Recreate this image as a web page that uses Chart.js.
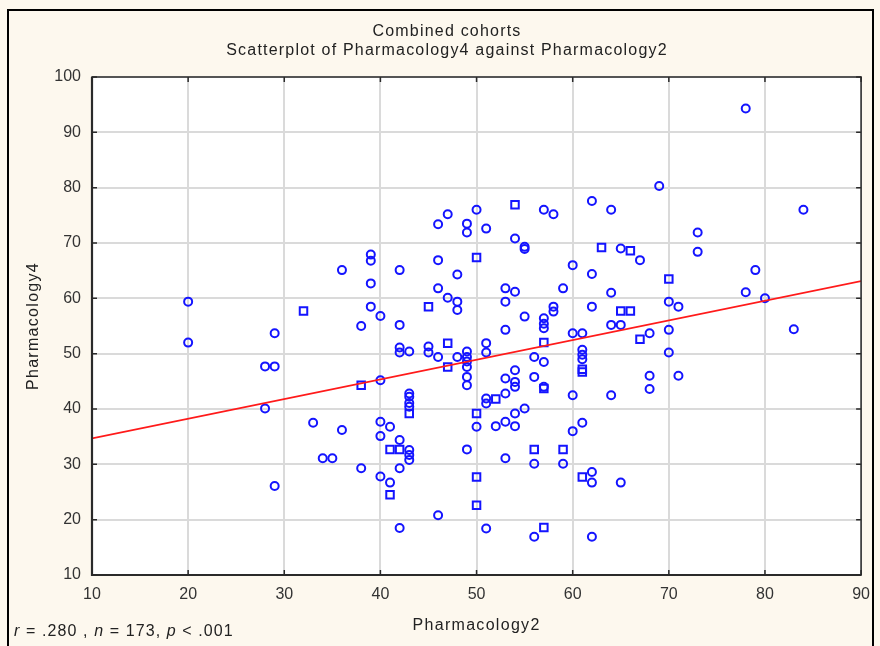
<!DOCTYPE html>
<html>
<head>
<meta charset="utf-8">
<script src="https://cdn.jsdelivr.net/npm/chart.js@4.4.0/dist/chart.umd.min.js"></script>
<style>
  html, body { margin: 0; padding: 0; background: #fdf8ee; }
  #wrap { width: 880px; height: 646px; position: relative; }
</style>
</head>
<body>
<div id="wrap"><canvas id="scatter" width="880" height="646"></canvas></div>
<script>
// titles
const chartTitle = 'Combined cohorts';
const chartSubtitle = 'Scatterplot of Pharmacology4 against Pharmacology2';
const xTitle = 'Pharmacology2';
const yTitle = 'Pharmacology4';

// axis ranges and ticks
const xTicks = [10, 20, 30, 40, 50, 60, 70, 80, 90];
const yTicks = [10, 20, 30, 40, 50, 60, 70, 80, 90, 100];

// circle markers
const circleX = [
  20, 20, 28, 28, 29, 29, 29, 33, 34, 35, 36, 36, 38, 38,
  39, 39, 39, 39, 40, 40, 40, 40, 40, 41, 41,
  42, 42, 42, 42, 42, 42, 42,
  43, 43, 43, 43, 43, 43, 43, 43,
  45, 45, 46, 46, 46, 46, 46, 47, 47, 48, 48, 48, 48,
  49, 49, 49, 49, 49, 49, 49, 49, 49, 50, 50,
  51, 51, 51, 51, 51, 51, 52,
  53, 53, 53, 53, 53, 53, 53,
  54, 54, 54, 54, 54, 54, 54,
  55, 55, 55, 55, 56, 56, 56, 56,
  57, 57, 57, 57, 57, 57, 58, 58, 58, 59, 59,
  60, 60, 60, 60, 61, 61, 61, 61, 61,
  62, 62, 62, 62, 62, 62, 64, 64, 64, 64, 65, 65, 65,
  67, 68, 68, 68, 69, 70, 70, 70, 71, 71, 73, 73,
  78, 78, 79, 80, 83, 84
];
const circleY = [
  59.4, 52.0, 47.7, 40.1, 53.7, 47.7, 26.1, 37.5, 31.1, 31.1, 65.1, 36.2, 55.0, 29.3,
  67.9, 66.8, 62.7, 58.5, 56.8, 45.2, 37.7, 35.1, 27.8, 36.8, 26.7,
  65.1, 55.2, 51.1, 50.2, 34.4, 29.3, 18.5,
  50.4, 42.8, 42.2, 41.1, 40.4, 32.6, 31.7, 30.8,
  51.3, 50.2, 73.4, 66.9, 61.8, 49.4, 20.8, 75.2, 60.1, 64.3, 59.4, 57.9, 49.4,
  73.5, 71.9, 50.4, 49.4, 48.6, 47.6, 45.8, 44.3, 32.7, 76.0, 36.8,
  72.6, 51.9, 50.2, 41.9, 41.0, 18.4, 36.9,
  61.8, 59.4, 54.3, 45.5, 42.8, 37.7, 31.1,
  70.8, 61.2, 47.0, 44.9, 44.0, 39.2, 36.9,
  69.3, 68.9, 56.7, 40.1, 49.4, 45.8, 30.1, 16.9,
  76.0, 56.4, 55.4, 54.6, 48.5, 44.0, 75.2, 58.5, 57.6, 61.8, 30.1,
  66.0, 53.7, 42.5, 36.0, 53.7, 50.7, 49.8, 49.0, 37.5,
  77.6, 64.4, 58.5, 28.6, 26.7, 16.9, 76.0, 61.0, 55.2, 42.5, 69.0, 55.2, 26.7,
  66.9, 53.7, 46.0, 43.6, 80.3, 59.4, 54.3, 50.2, 58.5, 46.0, 71.9, 68.4,
  94.3, 61.1, 65.1, 60.0, 54.4, 76.0
];

// square markers
const squareX = [32, 38, 41, 41, 42, 43, 45, 47, 47, 50, 50, 50, 50, 52, 54,
                 56, 57, 57, 57, 59, 61, 61, 61, 63, 65, 66, 66, 67, 70];
const squareY = [57.7, 44.3, 32.7, 24.5, 32.7, 39.2, 58.5, 51.9, 47.6, 67.4, 39.2, 27.7, 22.6, 41.8, 76.9,
                 32.7, 52.0, 43.7, 18.6, 32.7, 47.2, 46.7, 27.7, 69.2, 57.7, 68.6, 57.7, 52.6, 63.5];

// fitted line end points
const fitX = [10, 90];
const fitY = [34.7, 63.1];

const statsParts = [
    ['r', true], [' = .280 , ', false], ['n', true], [' = 173, ', false], ['p', true], [' < .001', false]
];

function toPoints(xs, ys) {
    return xs.map((x, i) => ({ x: x, y: ys[i] }));
}

const FONT = '"Liberation Sans", Arial, sans-serif';

// 背景、外框和文字
const decorPlugin = {
    id: 'decor',
    beforeDraw(chart) {
        const ctx = chart.ctx;
        const a = chart.chartArea;
        ctx.save();
        ctx.fillStyle = '#fdf8ee';
        ctx.fillRect(0, 0, chart.width, chart.height);
        ctx.fillStyle = '#ffffff';
        ctx.fillRect(a.left, a.top, a.right - a.left, a.bottom - a.top);
        ctx.restore();
    },
    afterDraw(chart) {
        const ctx = chart.ctx;
        const a = chart.chartArea;
        ctx.save();
        // plot frame, left and bottom heavier
        ctx.strokeStyle = '#2a2a2a';
        ctx.lineWidth = 1.5;
        ctx.strokeRect(a.left, a.top, a.right - a.left, a.bottom - a.top);
        ctx.lineWidth = 2.2;
        ctx.beginPath();
        ctx.moveTo(a.left, a.top); ctx.lineTo(a.left, a.bottom); ctx.lineTo(a.right, a.bottom);
        ctx.stroke();
        // outer frame
        ctx.strokeStyle = '#000';
        ctx.lineWidth = 2;
        ctx.strokeRect(8, 10, 865, 660);

        // inward major ticks
        ctx.strokeStyle = '#2a2a2a';
        ctx.lineWidth = 1.5;
        const xs = chart.scales.x, ys = chart.scales.y;
        xTicks.forEach(v => {
            const px = xs.getPixelForValue(v);
            ctx.beginPath();
            ctx.moveTo(px, a.bottom); ctx.lineTo(px, a.bottom - 5);
            ctx.moveTo(px, a.top); ctx.lineTo(px, a.top + 5);
            ctx.stroke();
        });
        yTicks.forEach(v => {
            const py = ys.getPixelForValue(v);
            ctx.beginPath();
            ctx.moveTo(a.left, py); ctx.lineTo(a.left + 5, py);
            ctx.moveTo(a.right, py); ctx.lineTo(a.right - 5, py);
            ctx.stroke();
        });

        // titles
        ctx.fillStyle = '#222';
        ctx.textAlign = 'center';
        ctx.textBaseline = 'middle';
        ctx.font = '16px ' + FONT;
        ctx.letterSpacing = '1.2px';
        ctx.fillText(chartTitle, 447, 32);
        ctx.fillText(chartSubtitle, 447, 51);

        ctx.letterSpacing = '1.3px';
        ctx.fillText(xTitle, (a.left + a.right) / 2, 626);
        ctx.save();
        ctx.translate(34, (a.top + a.bottom) / 2);
        ctx.rotate(-Math.PI / 2);
        ctx.fillText(yTitle, 0, 0);
        ctx.restore();

        // statistics line
        ctx.textAlign = 'left';
        ctx.letterSpacing = '1.1px';
        let x = 14;
        statsParts.forEach(([txt, it]) => {
            ctx.font = (it ? 'italic ' : '') + '16px ' + FONT;
            ctx.fillText(txt, x, 632);
            x += ctx.measureText(txt).width;
        });
        ctx.restore();
    }
};

const ctx = document.getElementById('scatter').getContext('2d');
const scatterChart = new Chart(ctx, {
    type: 'scatter',
    data: {
        datasets: [
            {
                label: 'circles',
                data: toPoints(circleX, circleY),
                pointStyle: 'circle',
                pointRadius: 4,
                borderColor: '#1414ff',
                backgroundColor: 'rgba(255,255,255,0)',
                borderWidth: 2,
                order: 1
            },
            {
                label: 'squares',
                data: toPoints(squareX, squareY),
                pointStyle: 'rect',
                pointRadius: 5.3,
                borderColor: '#1414ff',
                backgroundColor: 'rgba(255,255,255,0)',
                borderWidth: 2,
                order: 1
            },
            {
                type: 'line',
                label: 'fit',
                data: toPoints(fitX, fitY),
                borderColor: '#ff1a1a',
                borderWidth: 1.8,
                pointRadius: 0,
                fill: false,
                order: 0
            }
        ]
    },
    options: {
        responsive: false,
        animation: false,
        layout: { padding: { top: 77, right: 18, left: 0, bottom: 0 } },
        plugins: {
            legend: { display: false },
            tooltip: { enabled: false }
        },
        scales: {
            x: {
                type: 'linear',
                min: 10, max: 90,
                afterFit(scale) { scale.height = 71; },
                afterBuildTicks(scale) { scale.ticks = xTicks.map(v => ({ value: v })); },
                grid: { color: '#dadada', lineWidth: 2, drawTicks: false },
                border: { display: false },
                ticks: {
                    padding: 10,
                    color: '#333',
                    font: { family: FONT, size: 16 }
                }
            },
            y: {
                type: 'linear',
                min: 10, max: 100,
                afterFit(scale) { scale.width = 92; },
                afterBuildTicks(scale) { scale.ticks = yTicks.map(v => ({ value: v })); },
                grid: { color: '#dadada', lineWidth: 2, drawTicks: false },
                border: { display: false },
                ticks: {
                    padding: 11,
                    color: '#333',
                    font: { family: FONT, size: 16 }
                }
            }
        }
    },
    plugins: [decorPlugin]
});
</script>
</body>
</html>
